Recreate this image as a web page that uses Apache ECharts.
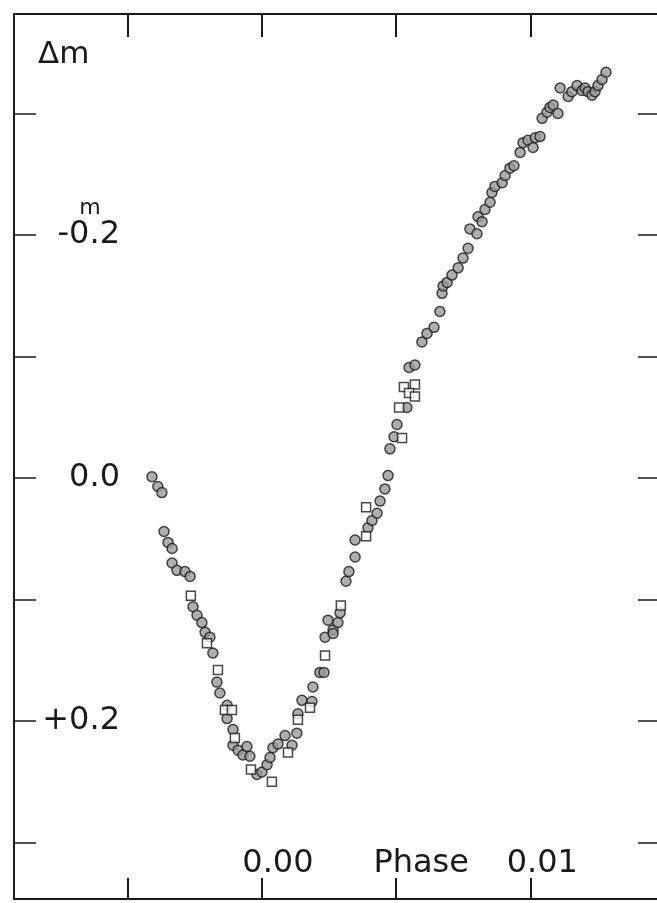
<!DOCTYPE html>
<html>
<head>
<meta charset="utf-8">
<script src="https://cdn.jsdelivr.net/npm/echarts@6/dist/echarts.min.js"></script>
<style>
    html, body { margin: 0; padding: 0; background: #fff; }
    #chart { width: 657px; height: 903px; }
</style>
</head>
<body>
<div id="chart"></div>
<script>
// phase ticks (bottom / top) and Δm ticks (left / right)
const phaseTicks = [-0.005, 0, 0.005, 0.01];
const phaseLabels = { "0": "0.00", "0.005": "Phase", "0.01": "0.01" };
const dmTicks = [-0.3, -0.2, -0.1, 0, 0.1, 0.2, 0.3];
const dmLabelValues = [-0.2, 0, 0.2];
const dmLabels = { "-0.2": "-0.2", "0": "0.0", "0.2": "+0.2" };

// filled circles: [phase, Δm]
const circles = [
    [-0.00410, -0.001], [-0.00388, 0.007], [-0.00373, 0.012],
    [-0.00365, 0.044], [-0.00350, 0.053], [-0.00335, 0.058],
    [-0.00335, 0.070], [-0.00317, 0.076], [-0.00287, 0.077], [-0.00268, 0.081],
    [-0.00257, 0.106], [-0.00242, 0.113], [-0.00224, 0.119], [-0.00212, 0.127],
    [-0.00194, 0.131], [-0.00183, 0.144], [-0.00168, 0.168], [-0.00157, 0.177],
    [-0.00130, 0.187], [-0.00130, 0.198], [-0.00108, 0.207], [-0.00108, 0.220],
    [-0.00089, 0.224], [-0.00071, 0.228], [-0.00056, 0.221], [-0.00045, 0.229],
    [-0.00019, 0.244], [0.00000, 0.242], [0.00019, 0.236], [0.00030, 0.230],
    [0.00041, 0.222], [0.00060, 0.219], [0.00086, 0.212], [0.00112, 0.220],
    [0.00130, 0.210], [0.00134, 0.194], [0.00149, 0.183], [0.00186, 0.184],
    [0.00190, 0.172], [0.00216, 0.160], [0.00231, 0.160], [0.00235, 0.131],
    [0.00246, 0.117], [0.00265, 0.125], [0.00265, 0.128], [0.00283, 0.119],
    [0.00291, 0.111], [0.00313, 0.085], [0.00324, 0.077], [0.00347, 0.065],
    [0.00347, 0.051], [0.00395, 0.041], [0.00410, 0.035], [0.00429, 0.029],
    [0.00440, 0.019], [0.00458, 0.009], [0.00470, -0.002], [0.00477, -0.024],
    [0.00492, -0.034], [0.00503, -0.044], [0.00540, -0.058], [0.00548, -0.091],
    [0.00570, -0.093], [0.00596, -0.112], [0.00615, -0.119], [0.00641, -0.124],
    [0.00663, -0.137], [0.00671, -0.152], [0.00675, -0.158], [0.00690, -0.161],
    [0.00708, -0.167], [0.00731, -0.173], [0.00749, -0.181], [0.00768, -0.189],
    [0.00775, -0.205], [0.00801, -0.201], [0.00805, -0.215], [0.00820, -0.211],
    [0.00831, -0.221], [0.00850, -0.227], [0.00857, -0.235], [0.00868, -0.240],
    [0.00895, -0.243], [0.00906, -0.249], [0.00924, -0.255], [0.00939, -0.257],
    [0.00962, -0.268], [0.00973, -0.276], [0.00991, -0.278], [0.01010, -0.272],
    [0.01018, -0.280], [0.01036, -0.281], [0.01044, -0.296], [0.01062, -0.301],
    [0.01073, -0.305], [0.01085, -0.307], [0.01103, -0.300], [0.01111, -0.321],
    [0.01141, -0.314], [0.01155, -0.318], [0.01174, -0.323], [0.01193, -0.319],
    [0.01204, -0.321], [0.01215, -0.318], [0.01230, -0.315], [0.01241, -0.318],
    [0.01252, -0.323], [0.01267, -0.328], [0.01282, -0.334]
];

// open squares: [phase, Δm]
const squares = [
    [-0.00265, 0.097], [-0.00205, 0.136], [-0.00164, 0.158], [-0.00138, 0.191],
    [-0.00112, 0.191], [-0.00101, 0.214], [-0.00041, 0.240], [0.00037, 0.250],
    [0.00097, 0.226], [0.00134, 0.199], [0.00179, 0.189], [0.00235, 0.146],
    [0.00294, 0.105], [0.00388, 0.048], [0.00388, 0.024], [0.00522, -0.033],
    [0.00511, -0.058], [0.00529, -0.075], [0.00570, -0.077], [0.00548, -0.070],
    [0.00570, -0.067]
];

const ink = "#1a1a1a";
const font = "DejaVu Sans, sans-serif";

const chart = echarts.init(document.getElementById("chart"), null, { renderer: "canvas" });

const keyOf = v => String(Math.round(v * 1000) / 1000);

chart.setOption({
    backgroundColor: "#fff",
    animation: false,
    title: {
        text: "Δm",
        left: 33,
        top: 34,
        textStyle: { fontFamily: font, fontWeight: "normal", fontSize: 31, color: ink }
    },
    grid: { left: 14, right: 0, top: 14, bottom: 4, containLabel: false },
    xAxis: [
        {
            type: "value",
            position: "bottom",
            min: -0.00924,
            max: 0.01472,
            splitLine: { show: false },
            axisLine: { show: true, onZero: false, lineStyle: { color: ink, width: 2 } },
            axisTick: {
                show: true, inside: true, length: 21, customValues: phaseTicks,
                lineStyle: { color: ink, width: 2 }
            },
            axisLabel: {
                inside: true,
                margin: 19,
                customValues: phaseTicks,
                formatter: v => {
                    if (Math.abs(v) < 1e-9) return "{a|" + phaseLabels["0"] + "}";
                    if (Math.abs(v - 0.005) < 1e-9) return "{b|" + phaseLabels["0.005"] + "}";
                    if (Math.abs(v - 0.01) < 1e-9) return "{c|" + phaseLabels["0.01"] + "}";
                    return "";
                },
                rich: {
                    a: { fontFamily: font, fontSize: 32, color: ink, padding: [0, 0, 0, 32] },
                    b: { fontFamily: font, fontSize: 32, color: ink, padding: [0, 0, 0, 50] },
                    c: { fontFamily: font, fontSize: 32, color: ink, padding: [0, 0, 0, 24] }
                }
            }
        },
        {
            type: "value",
            position: "top",
            min: -0.00924,
            max: 0.01472,
            splitLine: { show: false },
            axisLine: { show: true, onZero: false, lineStyle: { color: ink, width: 2 } },
            axisTick: {
                show: true, inside: true, length: 23, customValues: phaseTicks,
                lineStyle: { color: ink, width: 2 }
            },
            axisLabel: { show: false }
        }
    ],
    yAxis: [
        {
            type: "value",
            position: "left",
            inverse: true,
            min: -0.3819,
            max: 0.3465,
            splitLine: { show: false },
            axisLine: { show: true, onZero: false, lineStyle: { color: ink, width: 2 } },
            axisTick: {
                show: true, inside: true, length: 22, customValues: dmTicks,
                lineStyle: { color: ink, width: 1.5 }
            },
            axisLabel: {
                inside: true,
                margin: 106,
                align: "right",
                customValues: dmLabelValues,
                fontFamily: font,
                fontSize: 32,
                color: ink,
                formatter: v => dmLabels[keyOf(v)] || ""
            }
        },
        {
            type: "value",
            position: "right",
            inverse: true,
            min: -0.3819,
            max: 0.3465,
            splitLine: { show: false },
            axisLine: { show: false, onZero: false },
            axisTick: {
                show: true, inside: true, length: 19, customValues: dmTicks,
                lineStyle: { color: ink, width: 1.5 }
            },
            axisLabel: { show: false }
        }
    ],
    series: [
        {
            name: "circles",
            type: "scatter",
            xAxisIndex: 0,
            yAxisIndex: 0,
            symbol: "circle",
            symbolSize: 10,
            data: circles,
            itemStyle: { color: "#9a9a9a", borderColor: ink, borderWidth: 1.5 }
        },
        {
            name: "squares",
            type: "scatter",
            xAxisIndex: 0,
            yAxisIndex: 0,
            symbol: "rect",
            symbolSize: 9,
            data: squares,
            itemStyle: { color: "#fff", borderColor: ink, borderWidth: 1.5 }
        }
    ]
});

// superscript "m" over the decimal point of the -0.2 label
const yMinus02 = chart.convertToPixel({ yAxisIndex: 0 }, -0.2);
chart.setOption({
    graphic: [{
        type: "text",
        x: 90,
        y: yMinus02 - 27,
        style: {
            text: "m",
            fontFamily: font,
            fontSize: 22,
            fill: ink,
            align: "center",
            verticalAlign: "middle"
        }
    }]
});
</script>
</body>
</html>
